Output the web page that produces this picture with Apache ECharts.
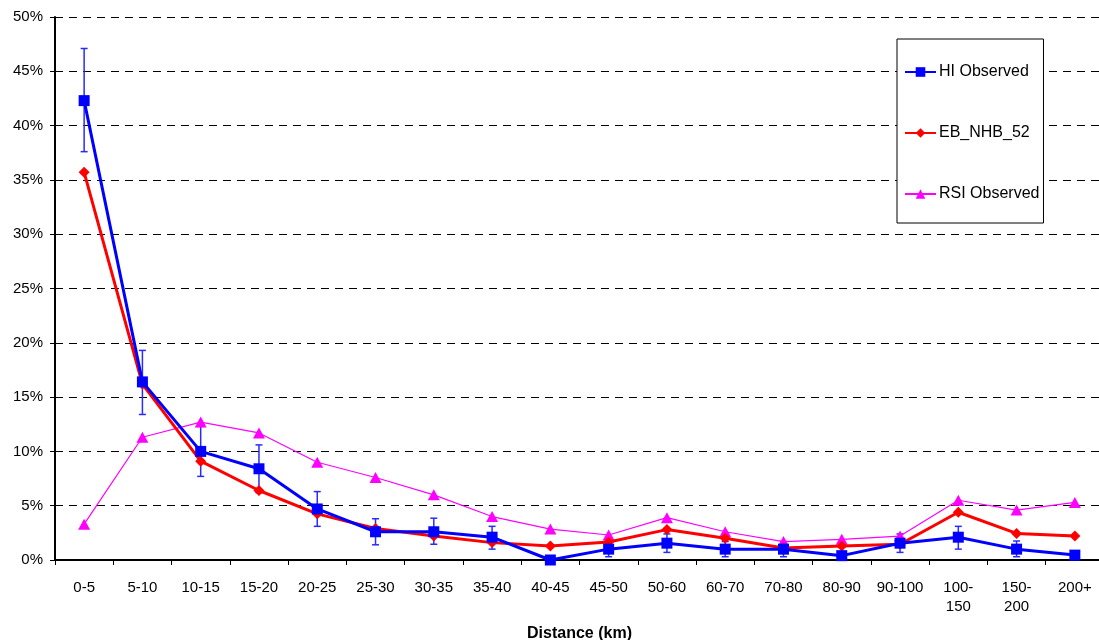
<!DOCTYPE html>
<html><head><meta charset="utf-8">
<script src="https://cdn.jsdelivr.net/npm/echarts@6/dist/echarts.min.js"></script>
<style>html,body{margin:0;padding:0;background:#fff}#c{width:1099px;height:640px}</style>
</head><body><div id="c"></div>
<script>
const categories = ['0-5','5-10','10-15','15-20','20-25','25-30','30-35','35-40','40-45','45-50','50-60','60-70','70-80','80-90','90-100','100-\n150','150-\n200','200+'];
const hiObserved = [42.3,16.4,10.0,8.4,4.7,2.6,2.6,2.1,0.0,1.0,1.55,1.0,1.0,0.4,1.55,2.1,1.0,0.45];
const hiLow  = [37.6,13.4,7.7,6.2,3.1,1.4,1.45,1.0,0.0,0.3,0.7,0.3,0.3,0.1,0.7,1.0,0.3,0.1];
const hiHigh = [47.1,19.3,12.3,10.6,6.3,3.8,3.85,3.1,0.0,1.7,2.4,1.7,1.7,0.7,2.4,3.1,1.75,0.8];
const ebNhb52 = [35.7,16.2,9.1,6.4,4.25,2.9,2.2,1.6,1.3,1.65,2.8,2.0,1.1,1.3,1.45,4.4,2.45,2.2];
const rsiObserved = [3.3,11.3,12.7,11.7,9.0,7.6,6.0,4.0,2.85,2.3,3.9,2.6,1.7,1.9,2.2,5.5,4.6,5.3];
const yTicks = [0,5,10,15,20,25,30,35,40,45,50];

const errData = categories.map((c,i)=>[i, hiLow[i], hiHigh[i]]);
const chart = echarts.init(document.getElementById('c'));
const font = 'Liberation Sans, Arial, sans-serif';
chart.setOption({
  animation:false,
  textStyle:{fontFamily:font},
  grid:{left:55, top:17, width:1049, height:543, containLabel:false, outerBoundsMode:'none'},
  legend:{
    data:['HI Observed','EB_NHB_52','RSI Observed'],
    orient:'vertical', left:897, top:39,
    padding:[25,4,21,7], itemGap:45, itemWidth:31, itemHeight:12,
    borderColor:'#000', borderWidth:1, backgroundColor:'#fff',
    textStyle:{fontSize:16, color:'#000', fontFamily:font, padding:[0,0,0,-2]}
  },
  xAxis:{
    type:'category', data:categories, boundaryGap:true,
    axisLine:{lineStyle:{color:'#000', width:2}},
    axisTick:{show:true, length:5, lineStyle:{color:'#000', width:1}},
    axisLabel:{fontSize:15, color:'#000', margin:18, lineHeight:19, interval:0},
    name:'Distance (km)', nameLocation:'middle', nameGap:66,
    nameTextStyle:{fontSize:16, fontWeight:'bold', color:'#000'}
  },
  yAxis:{
    type:'value', min:yTicks[0], max:yTicks[yTicks.length-1], interval:yTicks[1]-yTicks[0],
    axisLine:{show:true, lineStyle:{color:'#000', width:2}},
    axisTick:{show:true, length:5, lineStyle:{color:'#000'}},
    axisLabel:{fontSize:15, color:'#000', margin:12, formatter:v=>v+'%'},
    splitLine:{show:true, lineStyle:{color:'#000', type:[8,6], width:1}}
  },
  series:[
    {
      type:'custom', name:'err', z:1, silent:true,
      data:errData,
      renderItem:function(params, api){
        const x = api.value(0);
        const lo = api.coord([x, api.value(1)]);
        const hi = api.coord([x, api.value(2)]);
        if (api.value(2) - api.value(1) <= 0) return null;
        const w = 3.5;
        const st = {stroke:'#2a2aff', lineWidth:1.5};
        return {type:'group', children:[
          {type:'line', shape:{x1:lo[0],y1:lo[1],x2:hi[0],y2:hi[1]}, style:st},
          {type:'line', shape:{x1:lo[0]-w,y1:lo[1],x2:lo[0]+w,y2:lo[1]}, style:st},
          {type:'line', shape:{x1:hi[0]-w,y1:hi[1],x2:hi[0]+w,y2:hi[1]}, style:st}
        ]};
      }
    },
    {
      name:'RSI Observed', type:'line', data:rsiObserved, z:2,
      symbol:'triangle', symbolSize:[12,11], showAllSymbol:true,
      lineStyle:{color:'#ff00ff', width:1.2}, itemStyle:{color:'#ff00ff'}
    },
    {
      name:'EB_NHB_52', type:'line', data:ebNhb52, z:3,
      symbol:'diamond', symbolSize:[11,11], showAllSymbol:true,
      lineStyle:{color:'#ff0000', width:3}, itemStyle:{color:'#ff0000'}
    },
    {
      name:'HI Observed', type:'line', data:hiObserved, z:4,
      symbol:'rect', symbolSize:[11,11], showAllSymbol:true,
      lineStyle:{color:'#0000ff', width:3}, itemStyle:{color:'#0000ff'}
    }
  ]
});
</script></body></html>
